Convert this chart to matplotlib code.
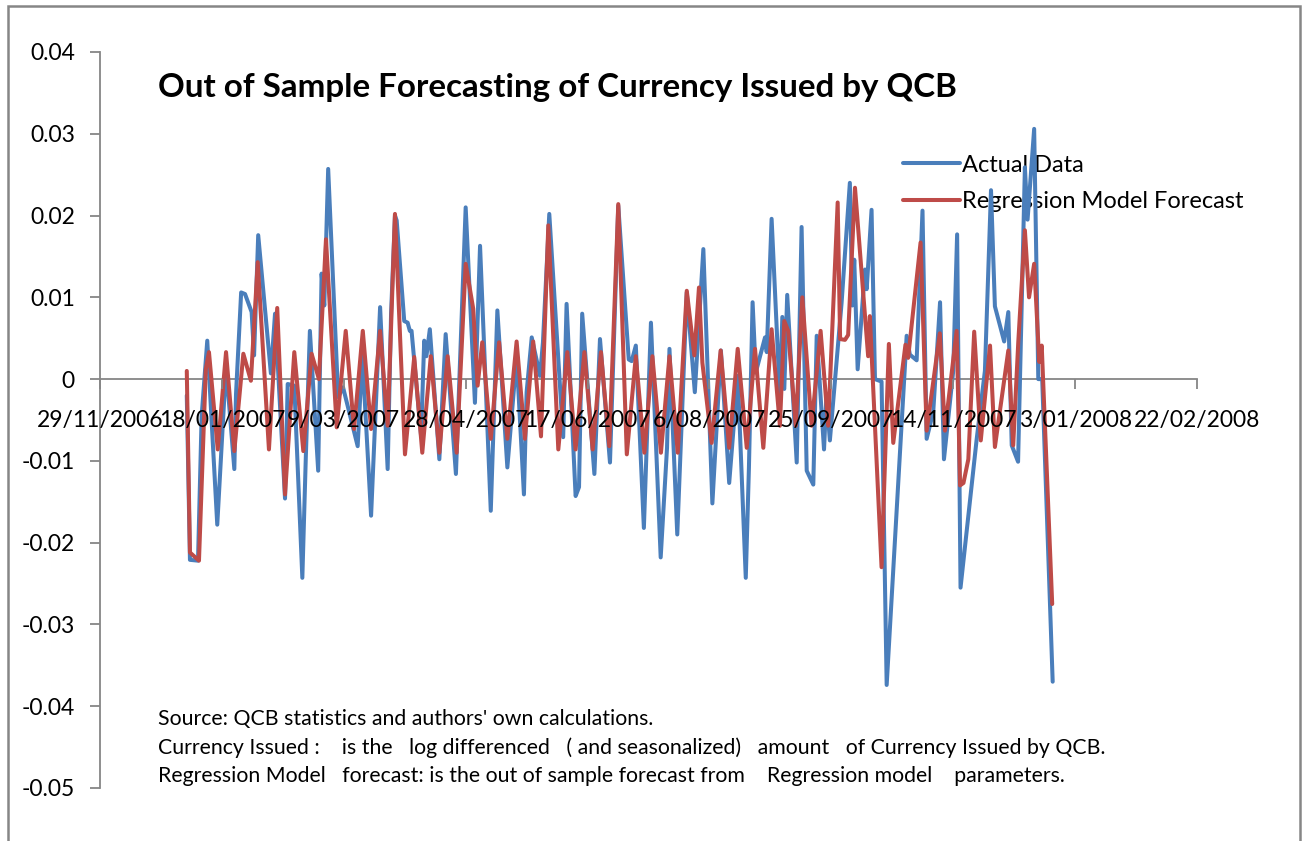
import datetime as dt
import numpy as np
import matplotlib
matplotlib.use("Agg")
import matplotlib.pyplot as plt
from matplotlib.patches import Rectangle

plt.rcParams['font.family'] = ['Lato', 'DejaVu Sans']

# ---------------- data (days after 2007-01-01, values) ----------------
blue_day = [2.6, 3.9, 7.2, 8.7, 11.0, 15.1, 18.7, 22.1, 22.8, 24.9,
            26.5, 29.2, 30.2, 31.9, 37.1, 38.8, 42.9, 44.0, 46.7, 50.0,
            51.4, 53.1, 56.5, 57.9, 59.0, 60.6, 64.7, 66.7, 72.7, 74.6,
            78.2, 81.9, 85.0, 86.4, 88.0, 88.7, 91.8, 93.2, 94.1, 94.8,
            98.7, 100.0, 100.9, 102.3, 106.2, 108.8, 113.0, 117.0, 120.8, 122.9,
            127.3, 130.0, 134.1, 137.9, 140.9, 142.0, 144.1, 147.5, 148.7, 151.3,
            157.0, 158.4, 162.1, 163.5, 164.8, 169.8, 172.1, 176.2, 179.6, 183.9,
            185.1, 186.8, 190.1, 193.0, 197.0, 199.6, 200.6, 203.8, 207.7, 211.0,
            214.5, 218.2, 221.7, 225.1, 228.6, 231.9, 233.2, 234.7, 236.0, 239.8,
            240.5, 242.5, 245.9, 246.9, 247.7, 248.9, 252.8, 254.8, 256.9, 259.6,
            261.0, 264.0, 265.0, 266.4, 271.2, 274.6, 275.6, 276.4, 277.8, 280.8,
            281.5, 283.5, 284.9, 287.6, 289.7, 297.9, 299.2, 302.0, 304.4, 306.1,
            308.8, 311.6, 313.2, 317.0, 318.6, 320.0, 326.6, 330.0, 332.5, 334.1,
            337.9, 339.6, 341.0, 343.6, 346.4, 347.5, 350.2, 351.9, 353.5, 357.8]
blue_val = [-0.0020, -0.0221, -0.0222, -0.0045, 0.0047, -0.0178, 0.0016, -0.0110, -0.0018, 0.0106,
            0.0104, 0.0082, 0.0029, 0.0176, 0.0007, 0.0080, -0.0146, -0.0006, -0.0008, -0.0243,
            -0.0098, 0.0059, -0.0112, 0.0129, 0.0090, 0.0257, -0.0022, -0.0010, -0.0082, 0.0029,
            -0.0167, 0.0088, -0.0110, 0.0080, 0.0200, 0.0194, 0.0071, 0.0069, 0.0059, 0.0059,
            -0.0069, 0.0047, 0.0028, 0.0061, -0.0098, 0.0055, -0.0116, 0.0210, -0.0029, 0.0163,
            -0.0161, 0.0084, -0.0108, 0.0027, -0.0141, -0.0016, 0.0051, 0.0004, 0.0045, 0.0202,
            -0.0071, 0.0092, -0.0143, -0.0132, 0.0080, -0.0116, 0.0049, -0.0102, 0.0212, 0.0024,
            0.0022, 0.0041, -0.0182, 0.0069, -0.0218, -0.0084, 0.0037, -0.0190, 0.0106, -0.0016,
            0.0159, -0.0152, 0.0035, -0.0127, 0.0004, -0.0243, -0.0108, 0.0094, 0.0008, 0.0051,
            0.0033, 0.0196, -0.0022, 0.0076, -0.0012, 0.0103, -0.0102, 0.0186, -0.0112, -0.0129,
            0.0053, -0.0086, -0.0020, -0.0075, 0.0093, 0.0240, 0.0090, 0.0146, 0.0012, 0.0134,
            0.0110, 0.0207, 0.0000, -0.0003, -0.0374, 0.0053, 0.0030, 0.0023, 0.0206, -0.0073,
            -0.0040, 0.0094, -0.0098, 0.0010, 0.0177, -0.0255, -0.0074, 0.0010, 0.0231, 0.0089,
            0.0046, 0.0082, -0.0081, -0.0101, 0.0259, 0.0195, 0.0306, 0.0000, 0.0000, -0.0370]

red_day = [2.6, 3.9, 7.6, 10.4, 11.7, 15.3, 18.7, 22.1, 25.8, 28.9,
           31.7, 36.3, 39.7, 42.9, 46.7, 50.4, 53.8, 56.8, 59.7, 64.1,
           67.8, 71.2, 74.8, 78.2, 81.9, 85.0, 88.0, 92.1, 95.9, 99.2,
           102.7, 106.2, 109.6, 113.3, 117.0, 120.1, 121.9, 123.8, 127.3, 130.7,
           134.1, 137.9, 141.3, 144.7, 147.9, 150.9, 155.0, 158.7, 162.1, 165.7,
           169.1, 172.5, 175.9, 179.6, 183.1, 186.8, 190.3, 193.6, 197.1, 200.6,
           204.0, 207.7, 210.8, 212.7, 214.1, 217.9, 221.6, 225.1, 228.6, 232.3,
           235.7, 239.1, 242.5, 245.9, 247.7, 249.3, 252.4, 255.1, 258.9, 262.6,
           265.7, 269.6, 270.6, 272.6, 273.9, 276.7, 282.1, 282.8, 287.6, 290.6,
           292.4, 297.4, 298.5, 303.6, 306.1, 311.5, 313.6, 318.4, 319.8, 321.2,
           323.2, 325.6, 328.3, 332.1, 334.1, 339.6, 341.6, 343.7, 346.4, 348.1,
           350.2, 352.3, 353.3, 357.6]
red_val = [0.0010, -0.0212, -0.0222, 0.0012, 0.0033, -0.0086, 0.0033, -0.0088, 0.0031, -0.0002,
           0.0143, -0.0086, 0.0087, -0.0141, 0.0033, -0.0088, 0.0031, 0.0000, 0.0171, -0.0059,
           0.0059, -0.0061, 0.0059, -0.0061, 0.0059, -0.0057, 0.0202, -0.0092, 0.0027, -0.0090,
           0.0028, -0.0090, 0.0028, -0.0090, 0.0141, 0.0086, -0.0008, 0.0045, -0.0073, 0.0045,
           -0.0073, 0.0046, -0.0073, 0.0046, -0.0070, 0.0188, -0.0086, 0.0033, -0.0086, 0.0033,
           -0.0086, 0.0033, -0.0082, 0.0214, -0.0092, 0.0028, -0.0090, 0.0028, -0.0090, 0.0028,
           -0.0090, 0.0108, 0.0029, 0.0112, 0.0020, -0.0078, 0.0035, -0.0084, 0.0037, -0.0084,
           0.0037, -0.0084, 0.0061, -0.0057, 0.0071, 0.0059, -0.0057, 0.0100, -0.0057, 0.0059,
           -0.0057, 0.0216, 0.0049, 0.0048, 0.0054, 0.0234, 0.0028, 0.0077, -0.0230, 0.0043,
           -0.0078, 0.0042, 0.0026, 0.0167, -0.0063, 0.0056, -0.0063, 0.0059, -0.0130, -0.0127,
           -0.0098, 0.0058, -0.0075, 0.0041, -0.0083, 0.0035, -0.0081, 0.0046, 0.0182, 0.0100,
           0.0141, 0.0021, 0.0041, -0.0275]

series_names = ["Actual Data", "Regression Model Forecast"]
title = "Out of Sample Forecasting of Currency Issued by QCB"
notes = ["Source: QCB statistics and authors' own calculations.",
         "Currency Issued :    is the   log differenced   ( and seasonalized)   amount   of Currency Issued by QCB.",
         "Regression Model   forecast: is the out of sample forecast from    Regression model    parameters."]
y_ticks = [-0.05, -0.04, -0.03, -0.02, -0.01, 0.0, 0.01, 0.02, 0.03, 0.04]

# ---------------- figure ----------------
W, H = 1304, 841
fig = plt.figure(figsize=(W / 100, H / 100), dpi=100)
ax = fig.add_axes([100 / W, 1 - 788 / H, (1197 - 100) / W, (788 - 52) / H])

base = dt.datetime(2007, 1, 1)
bx = [base + dt.timedelta(days=d) for d in blue_day]
rx = [base + dt.timedelta(days=d) for d in red_day]

BLUE = '#4a7ebb'
RED = '#be4b48'
LW = 2.9
lb, = ax.plot(bx, blue_val, color=BLUE, lw=LW, solid_joinstyle='round',
              solid_capstyle='round', zorder=3)
lr, = ax.plot(rx, red_val, color=RED, lw=LW, solid_joinstyle='round',
              solid_capstyle='round', zorder=4)

start = dt.datetime(2006, 11, 29)
ticks = [start + dt.timedelta(days=50 * i) for i in range(10)]
ax.set_xlim(ticks[0], ticks[-1])
ax.set_ylim(-0.05, 0.04)
ax.set_xticks(ticks)
ax.set_xticklabels([f"{t.day}/{t.month:02d}/{t.year}" for t in ticks])
ax.set_yticks(y_ticks)
ax.set_yticklabels(["0" if abs(v) < 1e-12 else f"{v:.2f}" for v in y_ticks])

GRAY = '#868686'
for s in ['top', 'right']:
    ax.spines[s].set_visible(False)
ax.spines['bottom'].set_position(('data', 0))
for s in ['left', 'bottom']:
    ax.spines[s].set_color(GRAY)
    ax.spines[s].set_linewidth(1.3)
ax.spines['bottom'].set_zorder(1)
ax.tick_params(axis='y', direction='out', length=7, width=1.3, color=GRAY,
               pad=11, labelsize=16.5)
ax.tick_params(axis='x', direction='out', length=7, width=1.3, color=GRAY,
               pad=15.5, labelsize=16.5)
ax.xaxis.set_zorder(6)
ax.set_facecolor('none')

leg = ax.legend([lb, lr], series_names, loc='upper left',
                bbox_to_anchor=(903 / W, 1 - 154.5 / H), bbox_transform=fig.transFigure,
                frameon=False, borderpad=0, borderaxespad=0, handlelength=2.4,
                handletextpad=0.1, labelspacing=0.66, fontsize=17)
leg.set_zorder(2.5)

fig.text(158 / W, 1 - 97 / H, title, ha='left', va='baseline',
         fontsize=23.9, fontweight='bold')
for i, (t, yb) in enumerate(zip(notes, [725, 753.5, 781.5])):
    fig.text(158 / W, 1 - yb / H, t, ha='left', va='baseline', fontsize=15.3)

fig.patches.append(Rectangle((8 / W, -0.05), (1300 - 8) / W, 1.05 - 6 / H,
                             transform=fig.transFigure, fill=False,
                             edgecolor=GRAY, lw=1.8))

fig.savefig('out.png', dpi=100)
